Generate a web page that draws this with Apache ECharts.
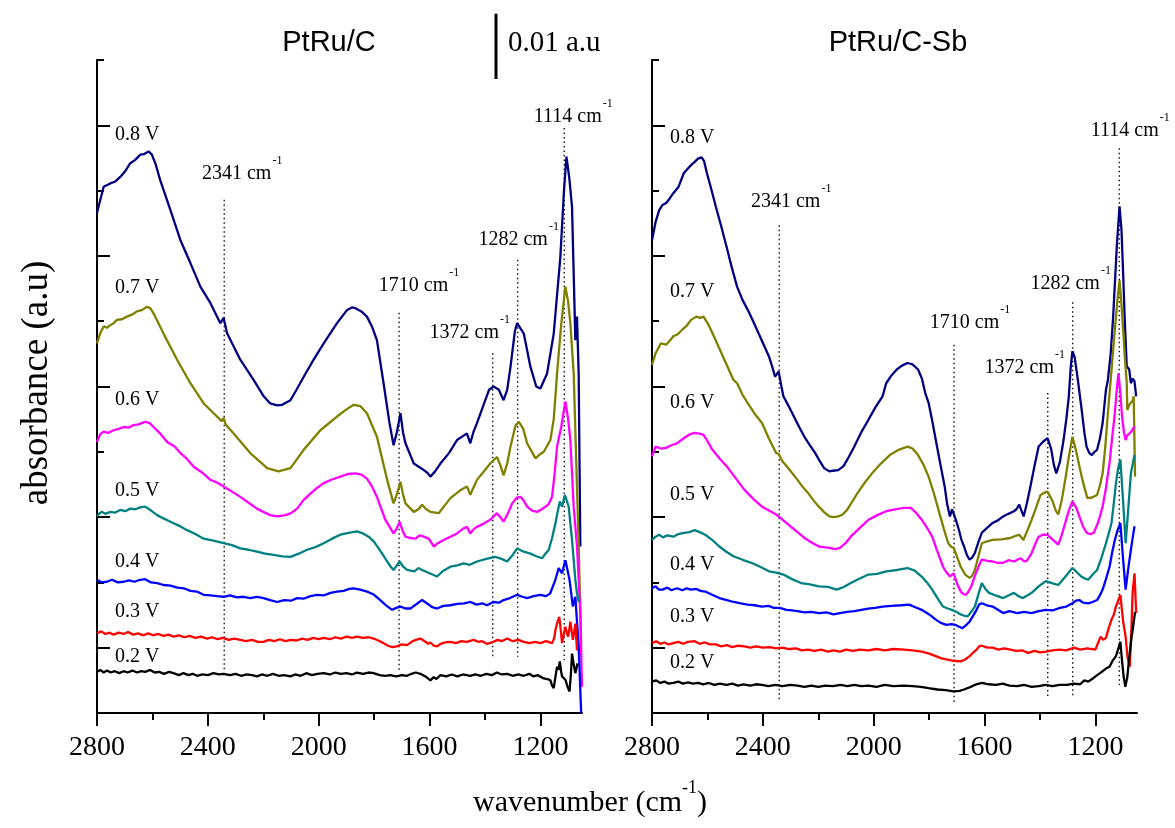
<!DOCTYPE html>
<html><head><meta charset="utf-8">
<script src="https://cdn.jsdelivr.net/npm/echarts@6.0.0/dist/echarts.min.js"></script>
<style>html,body{margin:0;padding:0;background:#fff}#c{width:1175px;height:828px}</style>
</head><body><div id="c"></div><script>
// ---------- data (wavenumber cm-1, absorbance in units of 0.01 a.u.) ----------
const panelTitles = ['PtRu/C', 'PtRu/C-Sb'];
const voltages = ['0.8 V', '0.7 V', '0.6 V', '0.5 V', '0.4 V', '0.3 V', '0.2 V'];
const xMajorTicks = [2800, 2400, 2000, 1600, 1200];
const xMinorTicks = [2600, 2200, 1800, 1400];
const yMajorTicks = [1, 3, 5, 7, 9];
const yMinorTicks = [0, 2, 4, 6, 8, 10];
const peakNames = ['2341', '1710', '1372', '1282', '1114'];
const peakWavenumbers = [2341, 1710, 1372, 1282, 1114];
const leftGuideTop = [7.86, 6.13, 5.51, 6.94, 8.96];
const leftGuideBottom = [0.66, 0.66, 0.84, 0.86, 0.81];
const rightGuideTop = [7.47, 5.64, 4.90, 6.29, 8.65];
const rightGuideBottom = [0.20, 0.17, 0.23, 0.23, 0.43];
const leftPeakLabelLevel = [8.27, 6.55, 5.83, 7.26, 9.14];
const rightPeakLabelLevel = [7.83, 5.99, 5.30, 6.58, 8.93];
const leftVoltLabelLevel = [8.85, 6.51, 4.79, 3.41, 2.31, 1.55, 0.86];
const rightVoltLabelLevel = [8.81, 6.45, 4.75, 3.34, 2.27, 1.47, 0.77];

// PtRu/C
const left08 = [[2800,7.66],[2776,8.06],[2752,8.11],[2734,8.14],[2716,8.21],[2698,8.30],[2680,8.42],[2662,8.47],[2644,8.55],[2630,8.56],[2614,8.60],[2602,8.55],[2588,8.40],[2572,8.16],[2535,7.70],[2499,7.24],[2463,6.89],[2427,6.53],[2391,6.28],[2355,5.97],[2343,6.05],[2331,5.82],[2283,5.41],[2235,5.10],[2200,4.86],[2175,4.74],[2150,4.71],[2132,4.72],[2102,4.79],[2080,4.95],[2054,5.15],[2020,5.40],[1982,5.66],[1934,5.97],[1898,6.17],[1880,6.21],[1868,6.20],[1846,6.15],[1826,6.07],[1808,5.92],[1790,5.71],[1766,5.05],[1745,4.45],[1730,4.10],[1718,4.30],[1705,4.59],[1696,4.30],[1687,4.13],[1657,3.82],[1621,3.72],[1608,3.68],[1597,3.62],[1580,3.70],[1561,3.82],[1530,3.98],[1501,4.18],[1480,4.24],[1465,4.28],[1453,4.13],[1442,4.30],[1429,4.44],[1399,4.79],[1385,4.95],[1369,5.00],[1350,4.95],[1333,4.79],[1320,4.95],[1308,5.30],[1292,5.85],[1284,5.97],[1260,5.81],[1236,5.30],[1215,5.00],[1200,4.97],[1176,5.20],[1152,5.81],[1128,6.99],[1115,8.00],[1106,8.52],[1096,8.20],[1086,7.75],[1074,5.71],[1068,6.07],[1062,5.20],[1056,2.55]];
const left07 = [[2800,5.66],[2788,5.82],[2776,5.92],[2764,5.90],[2752,5.94],[2740,5.97],[2728,6.02],[2710,6.03],[2692,6.07],[2674,6.10],[2656,6.15],[2638,6.17],[2620,6.22],[2608,6.20],[2596,6.12],[2560,5.81],[2511,5.41],[2463,5.05],[2415,4.74],[2379,4.59],[2350,4.47],[2343,4.52],[2336,4.42],[2307,4.28],[2247,3.98],[2186,3.75],[2145,3.70],[2102,3.75],[2054,4.03],[1994,4.33],[1934,4.54],[1900,4.65],[1874,4.72],[1850,4.70],[1826,4.59],[1790,4.23],[1753,3.57],[1730,3.21],[1718,3.35],[1705,3.54],[1696,3.35],[1687,3.21],[1657,3.08],[1640,3.12],[1627,3.19],[1612,3.12],[1597,3.08],[1567,3.06],[1545,3.18],[1525,3.29],[1489,3.41],[1465,3.47],[1453,3.34],[1442,3.45],[1429,3.57],[1400,3.72],[1381,3.82],[1357,3.92],[1345,3.80],[1333,3.64],[1320,3.82],[1308,4.08],[1290,4.40],[1278,4.46],[1262,4.35],[1248,4.13],[1218,3.90],[1205,3.95],[1188,4.00],[1164,4.18],[1152,4.50],[1146,4.84],[1140,5.20],[1125,5.95],[1110,6.53],[1100,6.30],[1092,5.97],[1080,5.20],[1074,4.33],[1062,2.55],[1053,1.07]];
const left06 = [[2800,4.15],[2788,4.27],[2776,4.31],[2760,4.29],[2740,4.33],[2722,4.35],[2704,4.38],[2686,4.37],[2668,4.41],[2650,4.42],[2626,4.46],[2610,4.44],[2596,4.38],[2570,4.27],[2547,4.15],[2520,4.08],[2499,3.98],[2475,3.89],[2451,3.77],[2420,3.68],[2391,3.57],[2367,3.53],[2343,3.47],[2313,3.39],[2283,3.31],[2253,3.22],[2223,3.13],[2200,3.08],[2175,3.03],[2150,3.01],[2120,3.03],[2100,3.06],[2078,3.13],[2055,3.26],[2030,3.36],[2005,3.45],[1982,3.52],[1950,3.58],[1922,3.62],[1895,3.66],[1868,3.67],[1846,3.65],[1826,3.59],[1808,3.47],[1790,3.31],[1760,2.96],[1730,2.75],[1719,2.82],[1708,2.93],[1698,2.80],[1687,2.70],[1670,2.68],[1651,2.67],[1636,2.72],[1621,2.70],[1603,2.67],[1585,2.55],[1570,2.60],[1549,2.65],[1525,2.70],[1501,2.75],[1480,2.82],[1465,2.85],[1453,2.75],[1440,2.82],[1429,2.85],[1405,2.90],[1381,2.96],[1357,3.06],[1345,3.00],[1333,2.93],[1318,3.05],[1302,3.21],[1285,3.30],[1272,3.31],[1260,3.25],[1248,3.16],[1230,3.10],[1212,3.08],[1195,3.12],[1182,3.16],[1170,3.20],[1158,3.31],[1148,3.70],[1140,4.08],[1125,4.38],[1110,4.77],[1100,4.50],[1092,4.18],[1080,3.16],[1068,2.55],[1056,1.53],[1050,0.40]];
const left05 = [[2800,3.01],[2791,3.06],[2782,3.08],[2770,3.05],[2752,3.08],[2734,3.07],[2716,3.11],[2698,3.09],[2680,3.13],[2662,3.12],[2644,3.15],[2626,3.16],[2605,3.10],[2583,3.03],[2560,2.98],[2535,2.93],[2505,2.87],[2475,2.80],[2445,2.74],[2415,2.67],[2380,2.64],[2343,2.60],[2313,2.57],[2283,2.52],[2253,2.50],[2223,2.47],[2193,2.44],[2163,2.42],[2132,2.40],[2102,2.39],[2072,2.44],[2042,2.50],[2012,2.54],[1982,2.60],[1952,2.67],[1922,2.73],[1892,2.76],[1862,2.78],[1840,2.75],[1820,2.70],[1800,2.62],[1784,2.52],[1768,2.42],[1753,2.32],[1740,2.24],[1730,2.19],[1718,2.26],[1708,2.32],[1695,2.24],[1681,2.19],[1655,2.17],[1640,2.22],[1627,2.19],[1600,2.14],[1573,2.09],[1550,2.18],[1525,2.24],[1500,2.26],[1477,2.29],[1455,2.27],[1429,2.32],[1395,2.36],[1363,2.39],[1340,2.36],[1320,2.32],[1300,2.42],[1284,2.52],[1260,2.47],[1236,2.44],[1215,2.40],[1194,2.37],[1182,2.44],[1170,2.50],[1158,2.68],[1146,2.90],[1138,3.08],[1130,3.24],[1122,3.16],[1112,3.34],[1098,3.16],[1086,2.65],[1074,2.04],[1068,1.83],[1062,1.70]];
const left04 = [[2800,2.04],[2782,2.00],[2764,2.01],[2746,2.04],[2725,2.00],[2704,2.01],[2684,2.03],[2665,2.01],[2645,2.04],[2626,2.05],[2605,2.00],[2583,1.99],[2560,1.96],[2535,1.95],[2510,1.92],[2487,1.91],[2463,1.87],[2440,1.86],[2415,1.81],[2390,1.80],[2367,1.79],[2343,1.78],[2320,1.80],[2295,1.77],[2271,1.78],[2247,1.76],[2223,1.78],[2199,1.76],[2175,1.73],[2150,1.70],[2125,1.73],[2100,1.72],[2078,1.76],[2055,1.75],[2030,1.79],[2006,1.81],[1982,1.80],[1958,1.84],[1934,1.86],[1910,1.87],[1890,1.90],[1874,1.91],[1850,1.89],[1826,1.86],[1800,1.81],[1778,1.73],[1755,1.64],[1735,1.58],[1720,1.61],[1705,1.63],[1688,1.60],[1669,1.60],[1650,1.66],[1627,1.73],[1610,1.68],[1590,1.62],[1573,1.60],[1550,1.64],[1525,1.65],[1500,1.67],[1475,1.68],[1453,1.70],[1430,1.66],[1410,1.68],[1393,1.65],[1370,1.70],[1350,1.69],[1333,1.73],[1310,1.76],[1284,1.81],[1265,1.78],[1248,1.76],[1225,1.79],[1200,1.81],[1180,1.79],[1165,1.83],[1158,1.83],[1146,2.04],[1134,2.22],[1122,2.14],[1110,2.34],[1095,2.04],[1083,1.63],[1074,1.78],[1062,1.02],[1053,0.0]];
const left03 = [[2800,1.22],[2785,1.25],[2770,1.21],[2755,1.23],[2740,1.20],[2722,1.23],[2704,1.21],[2688,1.24],[2670,1.20],[2652,1.22],[2632,1.19],[2615,1.22],[2598,1.19],[2580,1.21],[2560,1.18],[2542,1.20],[2524,1.17],[2505,1.19],[2485,1.16],[2465,1.18],[2445,1.15],[2425,1.17],[2403,1.14],[2385,1.16],[2365,1.13],[2345,1.15],[2325,1.12],[2305,1.14],[2283,1.12],[2262,1.10],[2240,1.12],[2220,1.09],[2199,1.09],[2180,1.12],[2160,1.10],[2140,1.13],[2120,1.10],[2102,1.12],[2080,1.11],[2060,1.14],[2040,1.12],[2020,1.15],[2000,1.13],[1982,1.15],[1960,1.13],[1940,1.16],[1920,1.14],[1900,1.17],[1880,1.15],[1862,1.17],[1840,1.15],[1820,1.16],[1802,1.14],[1785,1.11],[1766,1.07],[1750,1.03],[1735,1.01],[1718,1.02],[1700,1.05],[1681,1.04],[1665,1.09],[1650,1.12],[1633,1.14],[1618,1.10],[1605,1.06],[1597,1.08],[1585,1.03],[1573,1.02],[1560,1.06],[1545,1.08],[1525,1.09],[1505,1.07],[1485,1.10],[1465,1.09],[1441,1.12],[1425,1.09],[1410,1.10],[1393,1.06],[1375,1.08],[1355,1.12],[1340,1.10],[1320,1.14],[1300,1.10],[1280,1.12],[1260,1.09],[1240,1.07],[1220,1.09],[1200,1.07],[1180,1.10],[1158,1.07],[1150,1.15],[1146,1.27],[1138,1.40],[1132,1.47],[1126,1.25],[1122,1.07],[1116,1.20],[1110,1.32],[1104,1.22],[1100,1.17],[1095,1.30],[1092,1.40],[1087,1.25],[1083,1.12],[1078,1.25],[1074,1.37],[1068,0.96]];
const left02 = [[2800,0.63],[2788,0.66],[2776,0.62],[2764,0.65],[2750,0.62],[2736,0.64],[2720,0.61],[2704,0.64],[2690,0.62],[2672,0.65],[2656,0.62],[2640,0.64],[2626,0.63],[2608,0.66],[2592,0.62],[2575,0.63],[2558,0.60],[2540,0.63],[2524,0.61],[2505,0.58],[2488,0.61],[2470,0.58],[2455,0.60],[2439,0.57],[2420,0.59],[2400,0.58],[2380,0.61],[2360,0.59],[2343,0.60],[2320,0.58],[2300,0.60],[2280,0.57],[2260,0.59],[2240,0.58],[2223,0.56],[2205,0.59],[2185,0.57],[2165,0.60],[2145,0.57],[2125,0.58],[2102,0.56],[2085,0.59],[2065,0.57],[2045,0.61],[2025,0.58],[2005,0.60],[1982,0.61],[1960,0.59],[1940,0.62],[1920,0.60],[1900,0.61],[1880,0.59],[1862,0.62],[1840,0.60],[1820,0.62],[1802,0.61],[1780,0.58],[1760,0.57],[1742,0.58],[1720,0.56],[1700,0.58],[1681,0.57],[1665,0.60],[1650,0.62],[1633,0.60],[1615,0.56],[1597,0.50],[1585,0.55],[1575,0.52],[1561,0.58],[1540,0.56],[1520,0.59],[1500,0.56],[1480,0.59],[1453,0.57],[1435,0.59],[1415,0.57],[1395,0.60],[1375,0.58],[1357,0.62],[1340,0.59],[1320,0.60],[1300,0.57],[1280,0.59],[1260,0.57],[1240,0.60],[1225,0.56],[1210,0.58],[1188,0.53],[1175,0.52],[1164,0.50],[1158,0.42],[1152,0.38],[1146,0.55],[1140,0.71],[1135,0.66],[1130,0.79],[1126,0.65],[1122,0.56],[1116,0.58],[1110,0.51],[1102,0.40],[1095,0.33],[1090,0.60],[1086,0.91],[1080,0.75],[1074,0.61],[1066,0.76]];

// PtRu/C-Sb
const right08 = [[2800,7.24],[2787,7.52],[2774,7.70],[2762,7.78],[2749,7.81],[2736,7.88],[2723,7.96],[2704,8.06],[2685,8.27],[2672,8.33],[2659,8.39],[2646,8.44],[2634,8.49],[2621,8.51],[2612,8.45],[2602,8.27],[2586,8.02],[2570,7.76],[2550,7.45],[2531,7.14],[2512,6.82],[2493,6.53],[2474,6.33],[2454,6.17],[2435,6.00],[2416,5.82],[2397,5.64],[2378,5.46],[2366,5.30],[2356,5.15],[2343,5.23],[2333,5.00],[2326,4.85],[2307,4.70],[2288,4.54],[2269,4.38],[2250,4.23],[2230,4.10],[2211,3.98],[2195,3.86],[2179,3.75],[2160,3.70],[2147,3.71],[2128,3.72],[2109,3.78],[2090,3.92],[2070,4.08],[2045,4.30],[2019,4.49],[1994,4.68],[1968,4.85],[1955,5.05],[1936,5.17],[1917,5.26],[1898,5.32],[1878,5.36],[1860,5.34],[1840,5.26],[1826,5.12],[1814,4.90],[1802,4.75],[1790,4.50],[1776,4.18],[1760,3.82],[1744,3.47],[1735,3.20],[1725,3.01],[1717,3.12],[1712,3.09],[1703,2.95],[1693,2.81],[1684,2.66],[1674,2.55],[1664,2.42],[1654,2.35],[1645,2.38],[1635,2.45],[1622,2.62],[1610,2.76],[1590,2.84],[1571,2.91],[1552,2.95],[1533,3.01],[1514,3.05],[1494,3.09],[1485,3.12],[1475,3.19],[1467,3.10],[1459,3.01],[1448,3.20],[1437,3.42],[1420,3.78],[1405,4.08],[1390,4.15],[1373,4.21],[1360,4.05],[1350,3.80],[1341,3.67],[1328,3.85],[1315,4.18],[1305,4.50],[1296,4.85],[1289,5.30],[1283,5.54],[1275,5.45],[1265,5.15],[1251,4.69],[1240,4.30],[1232,4.08],[1222,3.98],[1213,3.95],[1203,4.00],[1194,4.03],[1184,4.20],[1174,4.44],[1162,4.95],[1155,5.10],[1145,5.50],[1136,6.07],[1123,7.14],[1113,7.76],[1106,7.40],[1100,6.73],[1094,6.00],[1087,5.31],[1078,5.26],[1072,5.05],[1066,5.12],[1059,5.08],[1053,4.85]];
const right07 = [[2800,5.33],[2787,5.51],[2768,5.66],[2749,5.64],[2736,5.70],[2723,5.77],[2707,5.80],[2691,5.87],[2675,5.93],[2659,6.02],[2640,6.07],[2627,6.05],[2614,6.07],[2598,5.96],[2582,5.82],[2563,5.64],[2544,5.46],[2525,5.28],[2506,5.10],[2493,5.05],[2474,4.88],[2454,4.74],[2429,4.58],[2403,4.44],[2378,4.20],[2352,3.98],[2343,3.97],[2330,3.86],[2314,3.78],[2295,3.68],[2275,3.57],[2256,3.46],[2237,3.37],[2218,3.26],[2198,3.16],[2180,3.08],[2160,3.01],[2145,3.00],[2128,3.01],[2112,3.04],[2096,3.11],[2077,3.24],[2058,3.37],[2032,3.53],[2006,3.67],[1974,3.82],[1942,3.95],[1910,4.03],[1878,4.08],[1860,4.05],[1840,3.95],[1820,3.80],[1802,3.62],[1782,3.35],[1763,3.06],[1747,2.82],[1731,2.60],[1722,2.55],[1712,2.53],[1700,2.40],[1686,2.24],[1670,2.12],[1654,2.07],[1645,2.10],[1635,2.19],[1622,2.40],[1610,2.60],[1590,2.63],[1571,2.65],[1540,2.66],[1507,2.68],[1490,2.71],[1475,2.73],[1468,2.70],[1460,2.65],[1445,2.80],[1430,2.96],[1414,3.15],[1398,3.34],[1386,3.37],[1373,3.39],[1355,3.25],[1343,3.10],[1334,3.04],[1322,3.25],[1309,3.57],[1296,3.92],[1283,4.23],[1270,4.02],[1258,3.78],[1244,3.52],[1229,3.29],[1212,3.30],[1194,3.34],[1184,3.48],[1174,3.67],[1165,4.05],[1155,4.59],[1142,5.25],[1130,5.87],[1121,6.30],[1113,6.63],[1106,6.25],[1100,5.87],[1093,5.40],[1087,5.05],[1085,4.64],[1078,4.72],[1072,4.69],[1066,4.78],[1062,4.85],[1057,3.62]];
const right06 = [[2800,3.93],[2787,4.08],[2768,4.05],[2749,4.06],[2730,4.10],[2710,4.13],[2694,4.18],[2678,4.23],[2662,4.27],[2646,4.29],[2630,4.28],[2614,4.26],[2598,4.15],[2582,4.03],[2557,3.90],[2531,3.78],[2499,3.60],[2467,3.42],[2435,3.28],[2403,3.16],[2378,3.10],[2352,3.04],[2326,2.95],[2301,2.86],[2275,2.77],[2250,2.68],[2224,2.61],[2198,2.55],[2180,2.54],[2160,2.53],[2140,2.51],[2122,2.53],[2102,2.60],[2083,2.70],[2051,2.83],[2019,2.96],[1987,3.03],[1955,3.09],[1923,3.12],[1891,3.14],[1866,3.14],[1846,3.06],[1827,2.96],[1808,2.84],[1789,2.70],[1770,2.47],[1750,2.24],[1737,2.15],[1725,2.09],[1718,2.12],[1712,2.14],[1699,1.98],[1686,1.86],[1676,1.82],[1667,1.81],[1658,1.86],[1648,1.94],[1635,2.10],[1622,2.24],[1610,2.35],[1590,2.33],[1571,2.32],[1552,2.30],[1533,2.30],[1514,2.34],[1494,2.32],[1480,2.35],[1469,2.37],[1460,2.33],[1450,2.32],[1440,2.38],[1430,2.45],[1418,2.58],[1405,2.70],[1390,2.73],[1373,2.73],[1355,2.66],[1334,2.58],[1322,2.72],[1309,2.91],[1296,3.10],[1283,3.24],[1270,3.15],[1258,3.01],[1245,2.86],[1232,2.76],[1218,2.74],[1206,2.76],[1190,2.92],[1174,3.16],[1162,3.45],[1149,3.83],[1140,4.20],[1130,4.59],[1123,4.95],[1117,5.20],[1110,4.90],[1104,4.54],[1097,4.30],[1091,4.18],[1085,4.25],[1078,4.23],[1072,4.30],[1066,4.34],[1059,4.39]];
const right05 = [[2800,2.65],[2787,2.70],[2774,2.73],[2760,2.69],[2745,2.72],[2723,2.70],[2705,2.74],[2685,2.76],[2665,2.77],[2646,2.80],[2628,2.77],[2608,2.73],[2583,2.65],[2557,2.55],[2532,2.47],[2506,2.40],[2475,2.35],[2442,2.30],[2410,2.24],[2378,2.17],[2352,2.15],[2326,2.12],[2295,2.05],[2262,1.99],[2230,1.97],[2198,1.94],[2165,1.93],[2134,1.89],[2108,1.93],[2083,1.99],[2050,2.06],[2019,2.12],[1987,2.13],[1955,2.17],[1915,2.19],[1878,2.22],[1852,2.18],[1827,2.09],[1808,2.00],[1789,1.89],[1770,1.76],[1750,1.63],[1733,1.60],[1718,1.58],[1702,1.55],[1686,1.51],[1674,1.49],[1661,1.48],[1648,1.55],[1635,1.63],[1622,1.82],[1610,1.99],[1597,1.90],[1584,1.84],[1560,1.80],[1533,1.76],[1514,1.80],[1494,1.84],[1478,1.79],[1462,1.76],[1446,1.80],[1430,1.84],[1405,1.94],[1379,2.02],[1357,1.99],[1334,1.96],[1318,2.04],[1302,2.12],[1283,2.22],[1268,2.16],[1251,2.09],[1238,2.06],[1226,2.04],[1210,2.12],[1194,2.19],[1178,2.38],[1162,2.60],[1152,2.75],[1142,2.91],[1134,3.20],[1126,3.52],[1118,3.75],[1110,3.88],[1101,3.30],[1091,2.60],[1082,3.10],[1072,3.67],[1065,3.82],[1059,3.95]];
const right04 = [[2800,1.91],[2787,1.94],[2775,1.89],[2762,1.89],[2745,1.92],[2730,1.88],[2710,1.91],[2690,1.88],[2675,1.91],[2659,1.89],[2640,1.90],[2625,1.87],[2608,1.86],[2583,1.81],[2557,1.76],[2530,1.73],[2505,1.70],[2480,1.68],[2455,1.66],[2430,1.65],[2403,1.63],[2380,1.64],[2360,1.61],[2339,1.61],[2315,1.58],[2295,1.57],[2275,1.56],[2250,1.54],[2225,1.55],[2198,1.53],[2170,1.54],[2145,1.51],[2122,1.53],[2095,1.55],[2070,1.56],[2045,1.58],[2020,1.60],[1995,1.61],[1968,1.63],[1935,1.64],[1900,1.65],[1872,1.66],[1850,1.62],[1827,1.58],[1800,1.51],[1776,1.43],[1758,1.38],[1738,1.35],[1720,1.36],[1706,1.35],[1692,1.32],[1680,1.30],[1668,1.34],[1654,1.40],[1640,1.50],[1629,1.58],[1620,1.66],[1610,1.68],[1592,1.65],[1571,1.63],[1552,1.58],[1533,1.53],[1510,1.56],[1482,1.53],[1458,1.55],[1430,1.53],[1405,1.56],[1379,1.58],[1355,1.57],[1328,1.61],[1305,1.63],[1283,1.68],[1270,1.72],[1258,1.73],[1245,1.69],[1226,1.68],[1210,1.70],[1194,1.73],[1184,1.80],[1174,1.89],[1162,2.05],[1149,2.24],[1140,2.45],[1130,2.65],[1120,2.80],[1110,2.91],[1101,2.40],[1091,1.89],[1082,2.20],[1072,2.50],[1065,2.70],[1059,2.86]];
const right03 = [[2800,1.07],[2785,1.10],[2770,1.06],[2755,1.08],[2740,1.05],[2723,1.07],[2705,1.09],[2688,1.06],[2670,1.09],[2646,1.10],[2628,1.06],[2610,1.08],[2590,1.05],[2570,1.05],[2550,1.02],[2530,1.04],[2510,1.01],[2490,1.03],[2467,1.02],[2445,1.00],[2425,1.02],[2400,1.00],[2375,1.01],[2352,0.99],[2330,1.00],[2305,0.98],[2280,0.99],[2260,0.96],[2237,0.97],[2215,0.95],[2190,0.97],[2165,0.94],[2145,0.96],[2122,0.94],[2100,0.97],[2075,0.95],[2050,0.97],[2019,0.96],[1990,0.98],[1960,0.96],[1930,0.98],[1891,0.97],[1860,0.96],[1827,0.94],[1800,0.91],[1776,0.87],[1758,0.84],[1738,0.82],[1712,0.80],[1686,0.79],[1670,0.82],[1654,0.87],[1640,0.93],[1629,0.97],[1620,1.02],[1610,1.03],[1590,1.00],[1571,1.00],[1550,0.97],[1530,0.99],[1507,0.97],[1485,0.95],[1465,0.96],[1443,0.92],[1420,0.95],[1400,0.93],[1379,0.94],[1355,0.96],[1330,0.97],[1305,0.96],[1277,1.00],[1255,0.97],[1230,0.99],[1200,0.97],[1190,1.08],[1181,1.17],[1172,1.12],[1162,1.15],[1152,1.30],[1142,1.43],[1134,1.50],[1126,1.63],[1118,1.72],[1110,1.81],[1100,1.40],[1091,1.17],[1084,0.85],[1076,0.71],[1070,1.30],[1066,1.84],[1059,2.14],[1053,1.53]];
const right02 = [[2800,0.48],[2785,0.50],[2770,0.46],[2755,0.48],[2740,0.45],[2723,0.46],[2705,0.48],[2688,0.45],[2670,0.47],[2652,0.45],[2634,0.46],[2615,0.44],[2595,0.46],[2575,0.43],[2555,0.45],[2531,0.43],[2510,0.45],[2490,0.42],[2470,0.44],[2445,0.42],[2425,0.44],[2403,0.43],[2380,0.41],[2355,0.43],[2330,0.41],[2300,0.43],[2275,0.42],[2250,0.40],[2225,0.42],[2200,0.40],[2175,0.42],[2147,0.41],[2120,0.43],[2095,0.41],[2070,0.43],[2045,0.41],[2019,0.42],[1990,0.40],[1960,0.43],[1930,0.41],[1891,0.42],[1860,0.41],[1830,0.40],[1802,0.38],[1770,0.36],[1740,0.35],[1712,0.33],[1690,0.34],[1674,0.36],[1650,0.40],[1630,0.44],[1610,0.46],[1585,0.44],[1558,0.43],[1535,0.45],[1510,0.42],[1482,0.41],[1458,0.43],[1430,0.40],[1405,0.41],[1380,0.43],[1355,0.41],[1330,0.43],[1302,0.43],[1280,0.45],[1255,0.44],[1240,0.50],[1226,0.48],[1212,0.52],[1200,0.56],[1187,0.60],[1174,0.64],[1162,0.68],[1149,0.71],[1138,0.80],[1126,0.87],[1118,0.98],[1110,1.09],[1104,0.80],[1098,0.55],[1092,0.40],[1085,0.55],[1078,0.85],[1070,1.15],[1064,1.32],[1057,1.55]];

const leftCurves = [left08, left07, left06, left05, left04, left03, left02];
const rightCurves = [right08, right07, right06, right05, right04, right03, right02];

// ---------- styles / layout ----------
const COLORS = ['#000080', '#808000', '#ff00ff', '#008080', '#0000ff', '#ff0000', '#000000'];
const SERIF = "'Liberation Serif', 'Times New Roman', serif";
const SANS = "'Liberation Sans', Arial, sans-serif";
const GRIDS = [{left: 97, top: 60, width: 485, height: 653}, {left: 652, top: 60, width: 485, height: 653}];
const PEAK_LABEL_DX = [[18, 20, -23, 1, 9], [12, 16, -23, -2, 11]];
const TXT = {color: '#000', textBorderWidth: 0, textBorderColor: 'transparent', textShadowBlur: 0, opacity: 1};

const chart = echarts.init(document.getElementById('c'));

const xAxes = [], yAxes = [], series = [];
GRIDS.forEach((g, p) => {
  xAxes.push({
    gridIndex: p, type: 'value', min: 1050, max: 2800, inverse: true, position: 'bottom',
    axisLine: {show: true, onZero: false, lineStyle: {color: '#000', width: 2}},
    axisTick: {show: true, customValues: xMajorTicks, length: 13, inside: false, lineStyle: {color: '#000', width: 2}},
    axisLabel: {show: true, customValues: xMajorTicks, color: '#000', fontFamily: SERIF, fontSize: 28, margin: 21,
      formatter: (v) => String(v)},
    splitLine: {show: false}
  });
  xAxes.push({
    gridIndex: p, type: 'value', min: 1050, max: 2800, inverse: true, position: 'bottom',
    axisLine: {show: false},
    axisTick: {show: true, customValues: xMinorTicks, length: 7, inside: false, lineStyle: {color: '#000', width: 2}},
    axisLabel: {show: false}, splitLine: {show: false}
  });
  yAxes.push({
    gridIndex: p, type: 'value', min: 0, max: 10, position: 'left',
    axisLine: {show: true, onZero: false, lineStyle: {color: '#000', width: 2}},
    axisTick: {show: true, customValues: yMajorTicks, length: 13, inside: true, lineStyle: {color: '#000', width: 2}},
    axisLabel: {show: false}, splitLine: {show: false}
  });
  yAxes.push({
    gridIndex: p, type: 'value', min: 0, max: 10, position: 'left',
    axisLine: {show: false},
    axisTick: {show: true, customValues: yMinorTicks, length: 7, inside: true, lineStyle: {color: '#000', width: 2}},
    axisLabel: {show: false}, splitLine: {show: false}
  });

  const curves = p === 0 ? leftCurves : rightCurves;
  const guideTop = p === 0 ? leftGuideTop : rightGuideTop;
  const guideBottom = p === 0 ? leftGuideBottom : rightGuideBottom;
  const peakLevel = p === 0 ? leftPeakLabelLevel : rightPeakLabelLevel;
  const voltLevel = p === 0 ? leftVoltLabelLevel : rightVoltLabelLevel;

  // dotted guide lines
  peakWavenumbers.forEach((wn, i) => {
    series.push({
      type: 'line', xAxisIndex: 2 * p, yAxisIndex: 2 * p, silent: true, showSymbol: false, z: 1,
      data: [[wn, guideTop[i]], [wn, guideBottom[i]]],
      lineStyle: {color: '#000', width: 1.3, type: [1.5, 3]}
    });
  });
  // spectra
  curves.forEach((d, i) => {
    series.push({
      type: 'line', name: voltages[i], xAxisIndex: 2 * p, yAxisIndex: 2 * p, data: d,
      showSymbol: false, silent: true, z: 3,
      lineStyle: {color: COLORS[i], width: 2.3}
    });
  });
  // peak labels
  series.push({
    type: 'scatter', xAxisIndex: 2 * p, yAxisIndex: 2 * p, symbolSize: 0, silent: true, clip: false, z: 5,
    itemStyle: {color: '#000'},
    data: peakWavenumbers.map((wn, i) => ({
      value: [wn, peakLevel[i]], name: peakNames[i],
      label: {offset: [PEAK_LABEL_DX[p][i], -4]}
    })),
    label: Object.assign({
      show: true, position: 'inside', align: 'center', verticalAlign: 'middle',
      formatter: (q) => '{a|' + q.name + ' cm}{s|-1}',
      rich: {
        a: Object.assign({fontFamily: SERIF, fontSize: 20, verticalAlign: 'bottom'}, TXT),
        s: Object.assign({fontFamily: SERIF, fontSize: 12, verticalAlign: 'top', padding: [0, 0, 17, 1]}, TXT)
      }
    }, TXT)
  });
  // voltage labels
  series.push({
    type: 'scatter', xAxisIndex: 2 * p, yAxisIndex: 2 * p, symbolSize: 0, silent: true, clip: false, z: 5,
    itemStyle: {color: '#000'},
    data: voltages.map((v, i) => ({value: [2800, voltLevel[i]], name: v})),
    label: Object.assign({
      show: true, position: 'inside', align: 'left', verticalAlign: 'middle', offset: [18, 0],
      formatter: (q) => q.name, fontFamily: SERIF, fontSize: 20
    }, TXT)
  });
});

chart.setOption({
  animation: false,
  backgroundColor: '#fff',
  grid: GRIDS.map(g => Object.assign({containLabel: false}, g)),
  xAxis: xAxes, yAxis: yAxes, series: series
});

// scale bar = one unit (0.01 a.u.) of the y axis
const y0 = chart.convertToPixel({yAxisIndex: 0}, 0);
const y1 = chart.convertToPixel({yAxisIndex: 0}, 1);
const unitPx = Math.abs(y0 - y1);

chart.setOption({
  graphic: [
    {type: 'text', x: 329, y: 43, style: {text: panelTitles[0], font: "29px " + SANS, fill: '#000', align: 'center', verticalAlign: 'middle'}},
    {type: 'text', x: 898, y: 43, style: {text: panelTitles[1], font: "29px " + SANS, fill: '#000', align: 'center', verticalAlign: 'middle'}},
    {type: 'line', shape: {x1: 496, y1: 79 - unitPx, x2: 496, y2: 79}, style: {stroke: '#000', lineWidth: 3}},
    {type: 'text', x: 508, y: 43, style: {text: '0.01 a.u', font: "29px " + SERIF, fill: '#000', align: 'left', verticalAlign: 'middle'}},
    {type: 'text', x: 37, y: 383, rotation: Math.PI / 2,
      style: {text: 'absorbance (a.u)', font: "37px " + SERIF, fill: '#000', align: 'center', verticalAlign: 'middle'}},
    {type: 'text', x: 590, y: 799,
      style: {text: '{a|wavenumber (cm}{s|-1}{a|)}', align: 'center', verticalAlign: 'middle',
        rich: {
          a: {fontFamily: SERIF, fontSize: 30, fill: '#000', verticalAlign: 'bottom'},
          s: {fontFamily: SERIF, fontSize: 18, fill: '#000', verticalAlign: 'top', padding: [0, 0, 21, 0]}
        }}}
  ]
});
</script></body></html>
